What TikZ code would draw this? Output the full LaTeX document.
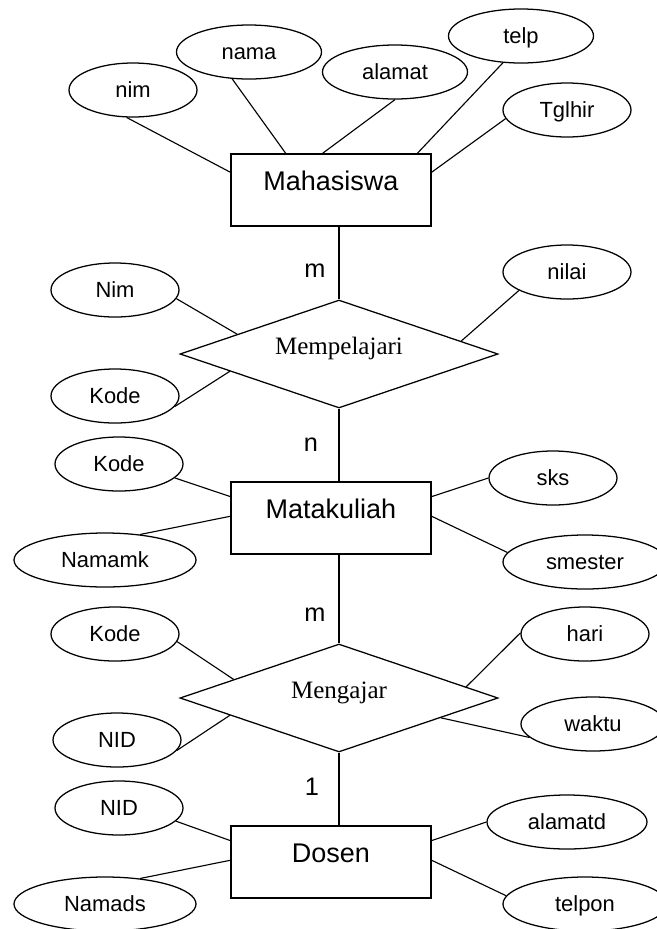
\documentclass[tikz,border=0pt]{standalone}
\usepackage{fontspec}
\setmainfont{Liberation Sans}
\newfontfamily\relfont{Liberation Serif}
\usepackage{tikz}
\usetikzlibrary{shapes.geometric}
\tikzstyle{entity} = [font=\fontsize{19.2}{22}\selectfont, rectangle, minimum width=5cm, minimum height=1.8cm, inner sep=0pt, text height=0.9cm, text depth=0.9cm, draw=black, line width=0.9pt]
\tikzstyle{relation} = [font=\relfont\fontsize{17.8}{21}\selectfont, diamond, aspect=2.9, minimum width=7.95cm, minimum height=2.7cm, inner sep=0pt, text height=0.3cm, text depth=0.3cm, draw=black, line width=0.9pt]
\tikzstyle{attribute} = [font=\fontsize{15.6}{18}\selectfont, ellipse, minimum width=3.2cm, minimum height=1.35cm, inner sep=0pt, text height=11.2pt, text depth=0pt, draw=black, line width=0.9pt]
\tikzstyle{card} = [font=\fontsize{18}{21}\selectfont]
\tikzstyle{link} = [line width=0.8pt]

\begin{document}
\begin{tikzpicture}
  \clip (-8.275,4.75) rectangle (8.15,-18.475);
  \node (mhs) [entity]{Mahasiswa};
  \node (mpl) [relation, below of = mhs, yshift=-3.1cm, xshift=0.2cm]{Mempelajari};
  \node (mk) [entity, below of = mpl, yshift=-3.1cm, xshift=-0.2cm]{Matakuliah};
  \node (mgj) [relation, below of = mk, yshift=-3.5cm, xshift=0.2cm]{Mengajar};
  \node (dsn) [entity, below of = mgj, yshift=-3.1cm, xshift=-0.2cm]{Dosen};
  % atribut mahasiswa
  \node (nim) [attribute, left of = mhs, xshift=-3.95cm, yshift=2.5cm]{nim};
  \node (nama) [attribute, minimum width=3.625cm, above of = mhs, yshift=2.45cm, xshift=-2.05cm]{nama};
  \node (alamat) [attribute, minimum width=3.625cm, above of = mhs, yshift=1.95cm, xshift=1.6cm]{alamat};
  \node (telp) [attribute, minimum width=3.625cm, above of = mhs, yshift=2.85cm, xshift=4.75cm]{telp};
  \node (tglhir) [attribute, right of = mhs, xshift=4.9cm, yshift=2cm]{Tglhir};
  % atribut mempelajari
  \node (nim2) [attribute, left of = mpl, xshift=-4.6cm, yshift=1.6cm]{Nim};
  \node (kode1) [attribute, left of = mpl, xshift=-4.6cm, yshift=-1.05cm]{Kode};
  \node (nilai) [attribute, right of = mpl, xshift=4.7cm, yshift=2.05cm]{nilai};
  % atribut matakuliah
  \node (kode2) [attribute, left of = mk, xshift=-4.3cm, yshift=1.35cm]{Kode};
  \node (namamk) [attribute, minimum width=4.55cm, left of = mk, xshift=-4.65cm, yshift=-1.05cm]{Namamk};
  \node (sks) [attribute, right of = mk, xshift=4.55cm, yshift=1cm]{sks};
  \node (smester) [attribute, minimum width=4.1cm, right of = mk, xshift=5.35cm, yshift=-1.1cm]{smester};
  % atribut mengajar
  \node (kode3) [attribute, left of = mgj, xshift=-4.6cm, yshift=1.6cm]{Kode};
  \node (nid1) [attribute, left of = mgj, xshift=-4.55cm, yshift=-1.05cm]{NID};
  \node (hari) [attribute, right of = mgj, xshift=5.15cm, yshift=1.6cm]{hari};
  \node (waktu) [attribute, minimum width=3.6cm, right of = mgj, xshift=5.35cm, yshift=-0.65cm]{waktu};
  % atribut dosen
  \node (nid2) [attribute, left of = dsn, xshift=-4.3cm, yshift=1.35cm]{NID};
  \node (namads) [attribute, minimum width=4.55cm, left of = dsn, xshift=-4.65cm, yshift=-1.05cm]{Namads};
  \node (alamatd) [attribute, minimum width=4cm, right of = dsn, xshift=4.9cm, yshift=1cm]{alamatd};
  \node (telpon) [attribute, minimum width=4.1cm, right of = dsn, xshift=5.35cm, yshift=-1.05cm]{telpon};
  \draw[link](nim.257) -- (mhs.170);
  \draw[link](nama.238) -- (mhs.141);
  \draw[link](alamat.270) -- (mhs.103);
  \draw[link](telp.236) -- (mhs.23);
  \draw[link](tglhir.188) -- (mhs.10);
  \draw[link](nim2.352) -- (mpl.169);
  \draw[link](kode1.350) -- (mpl.189);
  \draw[link](nilai.201) -- (mpl.6);
  \draw[link](kode2.346) -- (mk.168);
  \draw[link](namamk.36) -- (mk.179);
  \draw[link](sks.180) -- (mk.12);
  \draw[link](smester.173) -- (mk.1);
  \draw[link](kode3.353) -- (mgj.170);
  \draw[link](nid1.350) -- (mgj.189);
  \draw[link](hari.179) -- (mgj.5);
  \draw[link](waktu.192) -- (mgj.349);
  \draw[link](nid2.347) -- (dsn.168);
  \draw[link](namads.36) -- (dsn.179);
  \draw[link](alamatd.180) -- (dsn.12);
  \draw[link](telpon.174) -- (dsn.1);
  \draw[link](mhs.south -| mpl.north) -- node[card, pos=0.6, xshift=-0.6cm]{m} (mpl.north);
  \draw[link](mpl.south) -- node[card, pos=0.5, xshift=-0.7cm]{n} (mpl.south |- mk.north);
  \draw[link](mk.south -| mgj.north) -- node[card, pos=0.68, xshift=-0.6cm]{m} (mgj.north);
  \draw[link](mgj.south) -- node[card, pos=0.47, xshift=-0.675cm]{1} (mgj.south |- dsn.north);
\end{tikzpicture}
\end{document}
